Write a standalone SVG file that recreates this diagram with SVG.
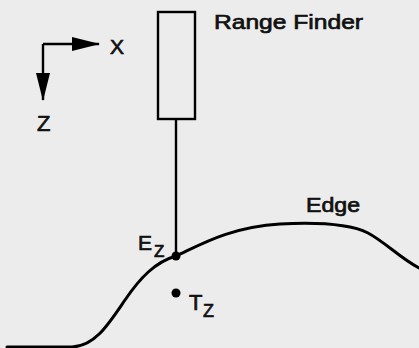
<svg xmlns="http://www.w3.org/2000/svg" width="419" height="348" viewBox="0 0 419 348">
<defs>
<style>
.ln{fill:none;stroke:#000;stroke-width:2.4;}
.cv{fill:none;stroke:#000;stroke-width:3;stroke-linecap:round;stroke-linejoin:round;}
.t{font-family:"Liberation Sans",Arial,sans-serif;fill:#111;stroke:#111;stroke-width:0.7;}
</style>
<marker id="ah" viewBox="0 0 28 14" refX="27" refY="7" markerWidth="28" markerHeight="14" markerUnits="userSpaceOnUse" orient="auto">
<path d="M0,0 L28,7 L0,14 Z" fill="#000"/>
</marker>
</defs>
<rect width="419" height="348" fill="#ececec"/>
<g id="axes">
<path class="ln" d="M43,44 L99,44" marker-end="url(#ah)"/>
<path class="ln" d="M43,44 L43,100" marker-end="url(#ah)"/>
<text class="t" x="110" y="54" font-size="21">X</text>
<text class="t" x="37" y="131" font-size="22">Z</text>
</g>
<g id="range-finder">
<rect x="158" y="12" width="37" height="107" fill="none" stroke="#000" stroke-width="2.4"/>
<text class="t" x="214" y="29" font-size="21" textLength="149" lengthAdjust="spacingAndGlyphs">Range Finder</text>
</g>
<g id="edge">
<path class="cv" d="M7,347 L72,347 C95,346 108,325 125,300 C140,278 155,262 176,256 C200,245 230,227 280,224 C320,222 350,224 368,233 C385,242 400,258 419,268"/>
<text class="t" x="306" y="212" font-size="20" textLength="54" lengthAdjust="spacingAndGlyphs">Edge</text>
</g>
<g id="connectors">
<path class="ln" d="M176,119 L176,256"/>
</g>
<g id="Ez">
<circle cx="176" cy="256" r="4.5" fill="#000"/>
<text class="t" x="138" y="250" font-size="21">E</text>
<text class="t" x="154" y="257" font-size="17">Z</text>
</g>
<g id="Tz">
<circle cx="176" cy="293" r="4.5" fill="#000"/>
<text class="t" x="189" y="310" font-size="22">T</text>
<text class="t" x="203" y="317" font-size="18">Z</text>
</g>
</svg>
